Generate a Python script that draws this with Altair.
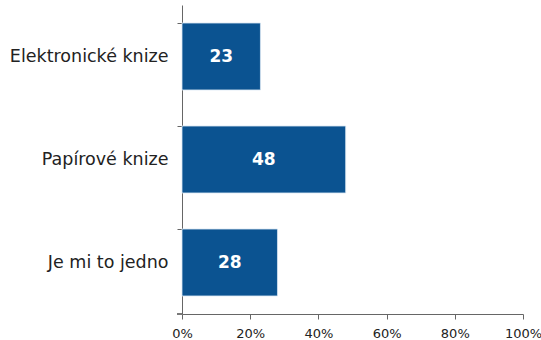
import altair as alt
import pandas as pd

categories = ["Elektronické knize", "Papírové knize", "Je mi to jedno"]
values = [23, 48, 28]

df = pd.DataFrame({"cat": categories, "val": values, "frac": [v / 100 for v in values]})

y = alt.Y("cat:N", sort=categories, title=None,
          scale=alt.Scale(paddingInner=0.35, paddingOuter=0.175),
          axis=alt.Axis(bandPosition=0, labelFont="DejaVu Sans", labelFontSize=17.5,
                        labelColor="#222222", labelPadding=9, tickSize=5,
                        tickColor="#666666", domainColor="#666666", grid=False))

x = alt.X("frac:Q", title=None,
          scale=alt.Scale(domain=[0, 1], nice=False),
          axis=alt.Axis(format="%", values=[0, 0.2, 0.4, 0.6, 0.8, 1.0],
                        labelFont="DejaVu Sans", labelFontSize=13, labelColor="#222222",
                        labelPadding=8, tickSize=5, tickColor="#666666",
                        domainColor="#666666", grid=False, labelFlush=False))

bars = alt.Chart(df).mark_bar(color="#0b5391", stroke="#d8e6f2", strokeWidth=0.8).encode(x=x, y=y)

text = alt.Chart(df).mark_text(color="white", font="DejaVu Sans", fontWeight="bold",
                               fontSize=17, baseline="middle", align="center").encode(
    x=alt.X("mid:Q"), y=alt.Y("cat:N", sort=categories), text="val:Q"
).transform_calculate(mid="datum.frac / 2")

corner = alt.Chart(df).mark_rule(color="#666666").encode(
    x=alt.value(-5), x2=alt.value(0), y=alt.value(309))

chart = alt.layer(bars, text, corner).properties(
    width=341, height=309,
    autosize=alt.AutoSizeParams(type="none"),
    padding={"left": 182, "top": 5, "right": 18, "bottom": 26},
).configure_view(stroke=None)

chart.save("out.html", embed_options={"renderer": "svg", "actions": False})
